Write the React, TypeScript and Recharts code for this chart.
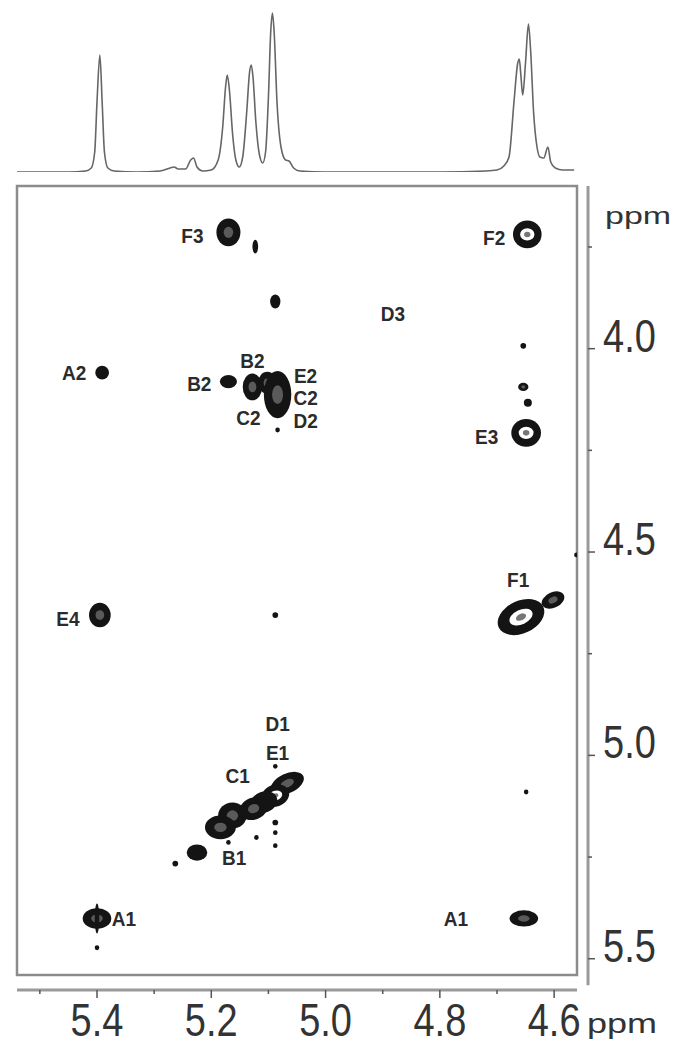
import React from "react";
import {
  LineChart,
  Line,
  ScatterChart,
  Scatter,
  XAxis,
  YAxis,
  ReferenceArea,
  ReferenceLine,
} from "recharts";

// 1D projection on top (ppm, height)
const projection = [
  [5.54, 0], [5.45, 0], [5.42, 1], [5.41, 4], [5.404, 20], [5.4, 70], [5.395, 117],
  [5.391, 70], [5.387, 20], [5.381, 4], [5.37, 1], [5.33, 0], [5.29, 1], [5.272, 4],
  [5.265, 5], [5.258, 3], [5.245, 3], [5.236, 12], [5.231, 14], [5.225, 5], [5.215, 1],
  [5.2, 2], [5.188, 12], [5.18, 45], [5.175, 85], [5.172, 97], [5.168, 80], [5.163, 40],
  [5.157, 12], [5.151, 5], [5.145, 15], [5.138, 60], [5.133, 100], [5.13, 107],
  [5.127, 95], [5.122, 50], [5.116, 18], [5.11, 9], [5.105, 20], [5.1, 75], [5.096, 140],
  [5.093, 159], [5.09, 140], [5.085, 70], [5.078, 25], [5.07, 12], [5.064, 11],
  [5.056, 4], [5.045, 1], [5.0, 0], [4.8, 0], [4.72, 1], [4.7, 2], [4.688, 6],
  [4.679, 15], [4.67, 72], [4.664, 108], [4.661, 113], [4.658, 95], [4.655, 77],
  [4.65, 110], [4.645, 148], [4.641, 120], [4.636, 60], [4.63, 25], [4.625, 15],
  [4.618, 14], [4.611, 25], [4.606, 10], [4.598, 4], [4.585, 2], [4.565, 2],
].map(([ppm, h]) => ({ ppm, h }));

// cross peaks: f2 (x), f1 (y), half widths in ppm, contour levels, tilt
const strongPeaks = [
  { x: 5.17, y: 3.714, dx: 0.021, dy: 0.034, level: 2, tilt: 0 }, // F3
  { x: 4.647, y: 3.719, dx: 0.025, dy: 0.034, level: 3, tilt: 0 }, // F2
  { x: 4.649, y: 4.207, dx: 0.026, dy: 0.034, level: 3, tilt: 0 }, // E3
  { x: 5.391, y: 4.059, dx: 0.012, dy: 0.017, level: 1, tilt: 0 }, // A2
  { x: 5.17, y: 4.081, dx: 0.015, dy: 0.016, level: 1, tilt: 0 }, // B2
  { x: 5.128, y: 4.094, dx: 0.017, dy: 0.033, level: 2, tilt: 0 },
  { x: 5.102, y: 4.084, dx: 0.016, dy: 0.027, level: 2, tilt: 0 },
  { x: 5.084, y: 4.113, dx: 0.024, dy: 0.058, level: 2, tilt: 0 },
  { x: 5.395, y: 4.655, dx: 0.019, dy: 0.03, level: 2, tilt: 0 }, // E4
  { x: 4.658, y: 4.66, dx: 0.043, dy: 0.04, level: 3, tilt: -25 }, // F1
  { x: 4.602, y: 4.618, dx: 0.021, dy: 0.019, level: 2, tilt: -25 },
  { x: 5.4, y: 5.401, dx: 0.025, dy: 0.025, level: 2, tilt: 0 }, // A1
  { x: 5.4, y: 5.401, dx: 0.004, dy: 0.037, level: 1, tilt: 0 },
  { x: 4.653, y: 5.401, dx: 0.025, dy: 0.02, level: 2, tilt: 0 }, // A1
];

const diagonalPeaks = [
  { x: 5.067, y: 5.069, dx: 0.031, dy: 0.024, level: 2, tilt: -25 },
  { x: 5.088, y: 5.099, dx: 0.025, dy: 0.027, level: 3, tilt: -20 },
  { x: 5.108, y: 5.115, dx: 0.024, dy: 0.026, level: 1, tilt: -20 },
  { x: 5.126, y: 5.131, dx: 0.025, dy: 0.027, level: 2, tilt: -20 },
  { x: 5.163, y: 5.148, dx: 0.025, dy: 0.032, level: 2, tilt: 0 },
  { x: 5.184, y: 5.177, dx: 0.027, dy: 0.029, level: 2, tilt: 0 },
  { x: 5.225, y: 5.239, dx: 0.018, dy: 0.02, level: 1, tilt: 0 },
];

const weakPeaks = [
  { x: 5.123, y: 3.749, dx: 0.005, dy: 0.017, level: 1, tilt: 0 },
  { x: 5.088, y: 3.884, dx: 0.009, dy: 0.017, level: 1, tilt: 0 },
  { x: 4.654, y: 3.993, dx: 0.005, dy: 0.007, level: 1, tilt: 0 },
  { x: 4.654, y: 4.094, dx: 0.009, dy: 0.01, level: 2, tilt: 0 },
  { x: 4.646, y: 4.133, dx: 0.007, dy: 0.01, level: 1, tilt: 0 },
  { x: 5.084, y: 4.2, dx: 0.004, dy: 0.006, level: 1, tilt: 0 },
  { x: 5.088, y: 4.655, dx: 0.005, dy: 0.007, level: 1, tilt: 0 },
  { x: 4.561, y: 4.507, dx: 0.004, dy: 0.006, level: 1, tilt: 0 },
  { x: 4.649, y: 5.09, dx: 0.004, dy: 0.006, level: 1, tilt: 0 },
  { x: 5.088, y: 5.027, dx: 0.004, dy: 0.006, level: 1, tilt: 0 },
  { x: 5.088, y: 5.165, dx: 0.005, dy: 0.007, level: 1, tilt: 0 },
  { x: 5.088, y: 5.19, dx: 0.004, dy: 0.006, level: 1, tilt: 0 },
  { x: 5.088, y: 5.222, dx: 0.004, dy: 0.006, level: 1, tilt: 0 },
  { x: 5.121, y: 5.202, dx: 0.004, dy: 0.006, level: 1, tilt: 0 },
  { x: 5.17, y: 5.214, dx: 0.004, dy: 0.006, level: 1, tilt: 0 },
  { x: 5.263, y: 5.266, dx: 0.005, dy: 0.007, level: 1, tilt: 0 },
  { x: 5.4, y: 5.473, dx: 0.004, dy: 0.006, level: 1, tilt: 0 },
];

const peakLabels = [
  { name: "F3", x: 5.233, y: 3.722 },
  { name: "F2", x: 4.705, y: 3.727 },
  { name: "D3", x: 4.882, y: 3.914 },
  { name: "A2", x: 5.44, y: 4.059 },
  { name: "B2", x: 5.221, y: 4.086 },
  { name: "B2", x: 5.128, y: 4.03 },
  { name: "E2", x: 5.035, y: 4.067 },
  { name: "C2", x: 5.035, y: 4.121 },
  { name: "C2", x: 5.135, y: 4.17 },
  { name: "D2", x: 5.035, y: 4.176 },
  { name: "E3", x: 4.718, y: 4.217 },
  { name: "F1", x: 4.663, y: 4.567 },
  { name: "E4", x: 5.451, y: 4.663 },
  { name: "D1", x: 5.084, y: 4.921 },
  { name: "E1", x: 5.084, y: 4.993 },
  { name: "C1", x: 5.154, y: 5.049 },
  { name: "B1", x: 5.16, y: 5.251 },
  { name: "A1", x: 5.353, y: 5.401 },
  { name: "A1", x: 4.772, y: 5.401 },
];

const xTicks = [5.5, 5.4, 5.3, 5.2, 5.1, 5.0, 4.9, 4.8, 4.7, 4.6];
const yTicks = [3.75, 4.0, 4.25, 4.5, 4.75, 5.0, 5.25, 5.5];

const X_MIN = 4.56;
const X_MAX = 5.54;
const Y_MIN = 3.6;
const Y_MAX = 5.54;
const PLOT_W = 560;
const PLOT_H = 789;
const PX_X = PLOT_W / (X_MAX - X_MIN);
const PX_Y = PLOT_H / (Y_MAX - Y_MIN);
const FONT = "'Liberation Sans', Arial, sans-serif";

function Peak(props: any) {
  const { cx, cy, payload } = props;
  if (cx == null || cy == null) return null;
  const rx = payload.dx * PX_X;
  const ry = payload.dy * PX_Y;
  return (
    <g transform={`rotate(${payload.tilt} ${cx} ${cy})`}>
      <ellipse cx={cx} cy={cy} rx={rx} ry={ry} fill="#141414" />
      {payload.level === 2 && (
        <ellipse cx={cx} cy={cy} rx={rx * 0.4} ry={ry * 0.4} fill="#5a5a5a" />
      )}
      {payload.level === 3 && (
        <>
          <ellipse cx={cx} cy={cy} rx={rx * 0.5} ry={ry * 0.45} fill="#fff" />
          <ellipse cx={cx} cy={cy} rx={rx * 0.22} ry={ry * 0.2} fill="#777" />
        </>
      )}
    </g>
  );
}

function Tag(props: any) {
  const { cx, cy, payload } = props;
  if (cx == null || cy == null) return null;
  return (
    <text
      transform={`translate(${cx},${cy}) scale(1,1.08)`}
      textAnchor="middle"
      dominantBaseline="central"
      fontSize={19}
      fontWeight={700}
      fontFamily={FONT}
      fill="#2b2b2b"
    >
      {payload.name}
    </text>
  );
}

function BottomTick(props: any) {
  const { x, y, payload } = props;
  const v = payload.value;
  const major = Math.round(v * 10) % 2 === 0;
  return (
    <g>
      <line x1={x} x2={x} y1={y + 15} y2={y + (major ? 23 : 19)} stroke="#555" strokeWidth={1.5} />
      {major && (
        <text
          transform={`translate(${x},${y + 61}) scale(1,1.2)`}
          textAnchor="middle"
          fontSize={38}
          fontFamily={FONT}
          fill="#333"
        >
          {v.toFixed(1)}
        </text>
      )}
    </g>
  );
}

function RightTick(props: any) {
  const { x, y, payload } = props;
  const v = payload.value;
  const major = Math.abs(v * 2 - Math.round(v * 2)) < 1e-6;
  return (
    <g>
      <line x1={x + 11} x2={x + (major ? 18 : 15)} y1={y} y2={y} stroke="#555" strokeWidth={1.5} />
      {major && (
        <text
          transform={`translate(${x + 26},${y + 3}) scale(1,1.22)`}
          fontSize={38}
          fontFamily={FONT}
          fill="#333"
        >
          {v.toFixed(1)}
        </text>
      )}
    </g>
  );
}

export default function App() {
  return (
    <div style={{ position: "absolute", left: 0, top: 0, width: 676, height: 1047, background: "#fff" }}>
      <div style={{ position: "absolute", left: 0, top: 0 }}>
        <LineChart width={676} height={190} data={projection} margin={{ top: 12, right: 99, left: 17, bottom: 18 }}>
          <XAxis dataKey="ppm" type="number" domain={[X_MIN, X_MAX]} reversed hide allowDataOverflow />
          <YAxis type="number" domain={[0, 160]} hide width={0} allowDataOverflow />
          <Line
            dataKey="h"
            type="monotone"
            stroke="#666"
            strokeWidth={1.6}
            dot={false}
            isAnimationActive={false}
          />
        </LineChart>
      </div>
      <div style={{ position: "absolute", left: 0, top: 0 }}>
        <ScatterChart width={676} height={1047} margin={{ top: 186, right: 9, left: 17, bottom: 12 }}>
          <XAxis
            dataKey="x"
            type="number"
            domain={[X_MIN, X_MAX]}
            reversed
            allowDataOverflow
            ticks={xTicks}
            interval={0}
            height={60}
            axisLine={false}
            tickLine={false}
            tickSize={0}
            tickMargin={0}
            tick={<BottomTick />}
            label={{
              value: "ppm",
              content: (p: any) => (
                <text
                  transform={`translate(${p.viewBox.x + p.viewBox.width + 10},${p.viewBox.y + 58}) scale(1,0.75)`}
                  fontSize={36}
                  fontFamily={FONT}
                  fill="#333"
                >
                  ppm
                </text>
              ),
            }}
          />
          <YAxis
            dataKey="y"
            type="number"
            orientation="right"
            domain={[Y_MIN, Y_MAX]}
            reversed
            allowDataOverflow
            ticks={yTicks}
            interval={0}
            width={90}
            axisLine={false}
            tickLine={false}
            tickSize={0}
            tickMargin={0}
            tick={<RightTick />}
            label={{
              value: "ppm",
              content: (p: any) => (
                <text
                  transform={`translate(${p.viewBox.x + 28},${p.viewBox.y + 38}) scale(1,0.72)`}
                  fontSize={34}
                  fontFamily={FONT}
                  fill="#333"
                >
                  ppm
                </text>
              ),
            }}
          />
          <ReferenceArea
            x1={X_MAX}
            x2={X_MIN}
            y1={Y_MIN}
            y2={Y_MAX}
            fill="none"
            stroke="#8c8c8c"
            strokeWidth={2.5}
            ifOverflow="visible"
          />
          <ReferenceLine
            segment={[{ x: X_MAX, y: 5.577 }, { x: X_MIN, y: 5.577 }]}
            stroke="#9a9a9a"
            strokeWidth={3}
            ifOverflow="visible"
          />
          <ReferenceLine
            segment={[{ x: 4.5407, y: Y_MIN }, { x: 4.5407, y: 5.565 }]}
            stroke="#9a9a9a"
            strokeWidth={3}
            ifOverflow="visible"
          />
          <Scatter data={weakPeaks} shape={<Peak />} isAnimationActive={false} />
          <Scatter data={strongPeaks} shape={<Peak />} isAnimationActive={false} />
          <Scatter data={diagonalPeaks} shape={<Peak />} isAnimationActive={false} />
          <Scatter data={peakLabels} shape={<Tag />} isAnimationActive={false} />
        </ScatterChart>
      </div>
    </div>
  );
}
